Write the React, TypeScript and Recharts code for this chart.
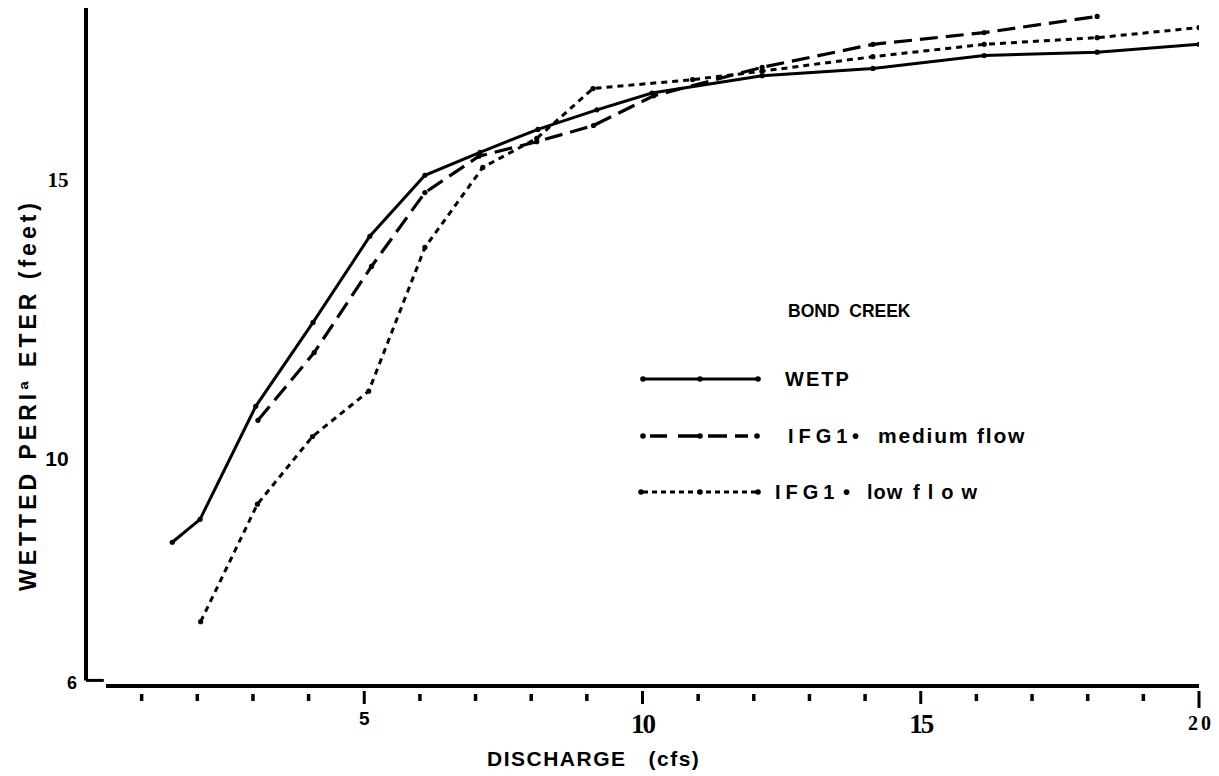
import { LineChart, Line, XAxis, YAxis, ReferenceLine } from "recharts";

// Bond Creek: wetted perimeter (feet) against discharge (cfs)
const WETP_X = [1.55, 2.05, 3.05, 4.08, 5.1, 6.09, 7.08, 8.12, 9.18, 10.17, 12.15, 14.14, 16.14, 18.17, 20];
const WETP_Y = [8.52, 8.93, 10.95, 12.45, 13.99, 15.08, 15.49, 15.9, 16.25, 16.55, 16.86, 16.99, 17.22, 17.28, 17.42];

const MEDIUM_X = [3.09, 4.1, 5.13, 6.09, 7.06, 8.1, 9.12, 10.2, 12.15, 14.14, 16.14, 18.17];
const MEDIUM_Y = [10.7, 11.91, 13.45, 14.77, 15.42, 15.68, 15.97, 16.5, 17.01, 17.42, 17.63, 17.92];

const LOW_X = [2.06, 3.08, 4.07, 5.08, 6.09, 7.13, 8.1, 9.11, 10.9, 12.15, 14.14, 16.14, 18.17, 20];
const LOW_Y = [7.1, 9.2, 10.41, 11.22, 13.79, 15.22, 15.74, 16.63, 16.79, 16.94, 17.2, 17.42, 17.54, 17.72];

const X_TICKS = [1, 2, 3, 4, 5, 6, 7, 8, 9, 10, 11, 12, 13, 14, 15, 16, 17, 18, 19, 20];
const X_MAJOR = [5, 10, 15, 20];
const Y_TICKS = [6, 10, 15];

const wetp = WETP_X.map((x, i) => ({ x, y: WETP_Y[i] }));
const medium = MEDIUM_X.map((x, i) => ({ x, y: MEDIUM_Y[i] }));
const low = LOW_X.map((x, i) => ({ x, y: LOW_Y[i] }));

const INK = "#000";
const SANS = "'Liberation Sans', Arial, sans-serif";
const SERIF = "'Liberation Serif', 'Times New Roman', serif";

function XTick({ x, y, payload }: any) {
  const v = payload.value;
  const major = X_MAJOR.includes(v);
  let label = null;
  if (v === 5) {
    label = (
      <text x={x} y={y + 39} textAnchor="middle" fontFamily={SANS} fontWeight="bold" fontSize={19} fill={INK}>
        5
      </text>
    );
  } else if (v === 20) {
    label = (
      <text x={x + 2} y={y + 44} textAnchor="middle" fontFamily={SERIF} fontWeight="bold" fontSize={20} letterSpacing={3} fill={INK}>
        20
      </text>
    );
  } else if (major) {
    label = (
      <text x={x} y={y + 47} textAnchor="middle" fontFamily={SERIF} fontWeight="bold" fontSize={27} letterSpacing={-2} fill={INK}>
        {v}
      </text>
    );
  }
  return (
    <g>
      <line
        x1={x}
        x2={x}
        y1={y + (major ? 5 : 8)}
        y2={y + (major ? (v === 20 ? 22 : 18) : 15)}
        stroke={INK}
        strokeWidth={major ? 3 : 3.5}
      />
      {label}
    </g>
  );
}

function YTick({ x, y, payload }: any) {
  const v = payload.value;
  if (v === 15) {
    return (
      <text x={x - 28} y={y + 7} textAnchor="middle" fontFamily={SERIF} fontWeight="bold" fontSize={21} fill={INK}>
        15
      </text>
    );
  }
  if (v === 10) {
    return (
      <text x={x - 29} y={y + 7} textAnchor="middle" fontFamily={SANS} fontWeight="bold" fontSize={21} fill={INK}>
        10
      </text>
    );
  }
  return (
    <text x={x - 14} y={y + 6} textAnchor="middle" fontFamily={SANS} fontWeight="bold" fontSize={18} fill={INK}>
      {v}
    </text>
  );
}

function LegendBox() {
  const dot = (cx: number, cy: number) => <circle cx={cx} cy={cy} r={2.8} fill={INK} />;
  return (
    <svg width={430} height={220} style={{ overflow: "visible", display: "block" }}>
      <text x={158} y={27} fontFamily={SANS} fontWeight="bold" fontSize={17.5} fill={INK} style={{ whiteSpace: "pre" }}>
        BOND  CREEK
      </text>

      <line x1={13} x2={128} y1={89} y2={89} stroke={INK} strokeWidth={3} />
      {dot(13, 89)}
      {dot(70, 89)}
      {dot(128, 89)}
      <text x={155} y={96} fontFamily={SANS} fontWeight="bold" fontSize={20} letterSpacing={2} fill={INK}>
        WETP
      </text>

      <line x1={20} x2={37} y1={146} y2={146} stroke={INK} strokeWidth={3.5} />
      <line x1={48} x2={72} y1={146} y2={146} stroke={INK} strokeWidth={3.5} />
      <line x1={78} x2={97} y1={146} y2={146} stroke={INK} strokeWidth={3.5} />
      <line x1={105} x2={118} y1={146} y2={146} stroke={INK} strokeWidth={3.5} />
      {dot(13, 146)}
      {dot(70, 146)}
      {dot(127, 146)}
      <text y={153} fontFamily={SANS} fontWeight="bold" fontSize={20} fill={INK} style={{ whiteSpace: "pre" }}>
        <tspan x={158} fontWeight={900} letterSpacing={5}>IFG1</tspan>
        <tspan x={222}>•</tspan>
        <tspan x={248} fontSize={21} letterSpacing={1.8}>medium flow</tspan>
      </text>

      <line x1={13} x2={128} y1={202} y2={202} stroke={INK} strokeWidth={3} strokeDasharray="5 4" />
      {dot(11, 202)}
      {dot(70, 202)}
      {dot(128, 202)}
      <text y={209} fontFamily={SANS} fontWeight="bold" fontSize={20} fill={INK} style={{ whiteSpace: "pre" }}>
        <tspan x={145} fontWeight={900} letterSpacing={5}>IFG1</tspan>
        <tspan x={213}>•</tspan>
        <tspan x={237} fontSize={20} letterSpacing={1}>low</tspan>
        <tspan x={283} fontSize={20} letterSpacing={8}>flow</tspan>
      </text>
    </svg>
  );
}

const dotStyle = { r: 2.6, fill: INK, stroke: INK, strokeWidth: 0 };

export default function App() {
  return (
    <div style={{ position: "absolute", left: 0, top: 0, width: 1219, height: 776, background: "#fff" }}>
      <LineChart width={1219} height={776} margin={{ top: 8, right: 20, bottom: 0, left: 0 }}>
        <XAxis
          type="number"
          dataKey="x"
          domain={[0, 20]}
          ticks={X_TICKS}
          interval={0}
          height={90}
          axisLine={false}
          tickLine={false}
          tickSize={0}
          tickMargin={0}
          tick={<XTick />}
          allowDataOverflow
        />
        <YAxis
          type="number"
          dataKey="y"
          domain={[5.95, 18.07]}
          ticks={Y_TICKS}
          interval={0}
          width={86}
          axisLine={false}
          tickLine={false}
          tickSize={0}
          tickMargin={0}
          tick={<YTick />}
          allowDataOverflow
        />

        {/* broken axes */}
        <ReferenceLine segment={[{ x: 0, y: 6.05 }, { x: 0, y: 18.07 }]} stroke={INK} strokeWidth={4} ifOverflow="visible" />
        <ReferenceLine segment={[{ x: 0, y: 6.05 }, { x: 0.32, y: 6.05 }]} stroke={INK} strokeWidth={3} ifOverflow="visible" />
        <ReferenceLine segment={[{ x: 0.36, y: 5.95 }, { x: 20, y: 5.95 }]} stroke={INK} strokeWidth={4} ifOverflow="visible" />

        <Line data={low} dataKey="y" type="linear" stroke={INK} strokeWidth={3} strokeDasharray="6 5" dot={dotStyle} activeDot={false} isAnimationActive={false} />
        <Line data={medium} dataKey="y" type="linear" stroke={INK} strokeWidth={3.2} strokeDasharray="18 8" dot={dotStyle} activeDot={false} isAnimationActive={false} />
        <Line data={wetp} dataKey="y" type="linear" stroke={INK} strokeWidth={3} dot={dotStyle} activeDot={false} isAnimationActive={false} />
      </LineChart>

      <div style={{ position: "absolute", left: 630, top: 290 }}>
        <LegendBox />
      </div>

      <svg width={60} height={776} style={{ position: "absolute", left: 0, top: 0 }}>
        <text
          x={28}
          y={395}
          transform="rotate(-90 28 395)"
          textAnchor="middle"
          dominantBaseline="central"
          fontFamily={SANS}
          fontWeight="bold"
          fontSize={23}
          letterSpacing={4}
          fill={INK}
        >
          WETTED PERIª ETER (feet)
        </text>
      </svg>

      <div
        style={{
          position: "absolute",
          left: 487,
          top: 747,
          fontFamily: SANS,
          fontWeight: "bold",
          fontSize: 21,
          letterSpacing: 1.5,
          whiteSpace: "pre",
          color: INK,
        }}
      >
        {"DISCHARGE   (cfs)"}
      </div>
    </div>
  );
}
